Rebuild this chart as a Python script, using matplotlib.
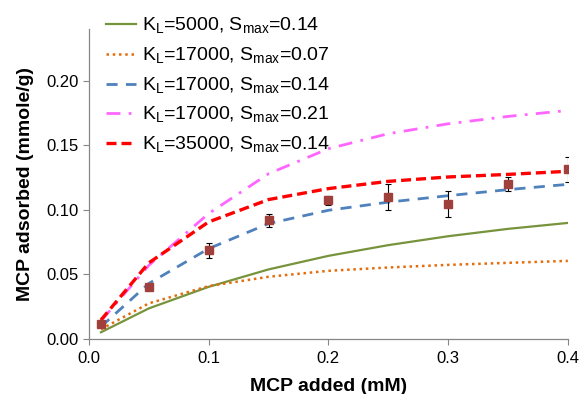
import numpy as np
import matplotlib
matplotlib.use("Agg")
import matplotlib.pyplot as plt

plt.rcParams['font.family'] = ['Liberation Sans', 'DejaVu Sans']
plt.rcParams['mathtext.fontset'] = 'custom'
plt.rcParams['mathtext.rm'] = 'Liberation Sans'

# MCP added (mM)
x = [0.01, 0.05, 0.1, 0.15, 0.2, 0.25, 0.3, 0.35, 0.4]

# model curves
kl5000_s014 = [0.0052, 0.0237, 0.0404, 0.0539, 0.0644, 0.0727, 0.0796, 0.0853, 0.0899]
kl17000_s007 = [0.0075, 0.0276, 0.0410, 0.0482, 0.0528, 0.0554, 0.0574, 0.0590, 0.0605]
kl17000_s014 = [0.0095, 0.0430, 0.0700, 0.0894, 0.0997, 0.1060, 0.1110, 0.1157, 0.1198]
kl17000_s021 = [0.0140, 0.0570, 0.0972, 0.1280, 0.1474, 0.1590, 0.1667, 0.1724, 0.1770]
kl35000_s014 = [0.0147, 0.0590, 0.0907, 0.1080, 0.1165, 0.1221, 0.1255, 0.1275, 0.1299]

# measured
meas = [0.0116, 0.0404, 0.0688, 0.0920, 0.1074, 0.1100, 0.1046, 0.1203, 0.1314]
err = [0.002, 0.001, 0.0057, 0.0050, 0.0035, 0.0099, 0.0098, 0.0055, 0.0099]

fig = plt.figure(figsize=(5.8, 3.94), dpi=100)
ax = fig.add_axes([0.1534, 0.1396, 0.8256, 0.7864])

ax.plot(x, kl5000_s014, color='#77933C', lw=1.6, label=r'K$_\mathregular{L}$=5000, S$_\mathregular{max}$=0.14')
ax.plot(x, kl17000_s007, color='#E46C0A', lw=1.8, ls=(0, (1, 1.5)),
        label=r'K$_\mathregular{L}$=17000, S$_\mathregular{max}$=0.07')
ax.plot(x, kl17000_s014, color='#4F81BD', lw=2.0, ls=(0, (4, 3)),
        label=r'K$_\mathregular{L}$=17000, S$_\mathregular{max}$=0.14')
ax.plot(x, kl17000_s021, color='#FF66FF', lw=2.0, ls=(0, (5, 3, 1, 3)),
        label=r'K$_\mathregular{L}$=17000, S$_\mathregular{max}$=0.21')
ax.plot(x, kl35000_s014, color='#FF0000', lw=2.4, ls=(0, (3, 1.5)),
        label=r'K$_\mathregular{L}$=35000, S$_\mathregular{max}$=0.14')

ax.errorbar(x, meas, yerr=err, fmt='s', color='#A0403C', ms=6, mec='#A0403C',
            ecolor='black', elinewidth=0.8, capsize=2, capthick=0.8, zorder=5)

ax.set_xlim(0, 0.4)
ax.set_ylim(0, 0.24)
ax.set_xticks([0.0, 0.1, 0.2, 0.3, 0.4])
ax.set_xticklabels(['0.0', '0.1', '0.2', '0.3', '0.4'])
ax.set_yticks([0.0, 0.05, 0.10, 0.15, 0.20])
ax.set_yticklabels(['0.00', '0.05', '0.10', '0.15', '0.20'])

for s in ['top', 'right']:
    ax.spines[s].set_visible(False)
for s in ['left', 'bottom']:
    ax.spines[s].set_color('#868686')
    ax.spines[s].set_linewidth(0.9)
ax.tick_params(direction='out', length=4, color='#868686', labelsize=12)
ax.tick_params(axis='x', pad=5)

ax.set_xlabel('MCP added (mM)', fontsize=14, fontweight='bold', labelpad=8)
ax.set_ylabel('MCP adsorbed (mmole/g)', fontsize=14, fontweight='bold', labelpad=9)

ax.legend(loc='upper left', bbox_to_anchor=(0.0, 1.10), frameon=False, fontsize=14,
          handlelength=1.5, handletextpad=0.35, labelspacing=0.49)

fig.savefig('out.png', dpi=100)
